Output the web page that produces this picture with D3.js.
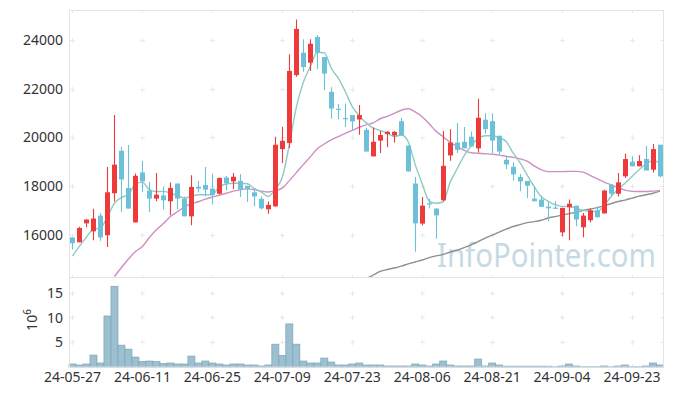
<!DOCTYPE html>
<html>
<head>
<meta charset="utf-8">
<script src="https://cdn.jsdelivr.net/npm/d3@7"></script>
<style>
  body { margin: 0; background: #fff; }
  text { font-family: "Noto Sans", sans-serif; }
</style>
</head>
<body>
<div id="chart"></div>
<script>
// trading days shown on the chart (yy-mm-dd)
var dates = [
  "24-05-27","24-05-28","24-05-29","24-05-30","24-05-31",
  "24-06-03","24-06-04","24-06-05","24-06-07","24-06-10","24-06-11",
  "24-06-12","24-06-13","24-06-14","24-06-17","24-06-18","24-06-19","24-06-20","24-06-21","24-06-24","24-06-25",
  "24-06-26","24-06-27","24-06-28","24-07-01","24-07-02","24-07-03","24-07-04","24-07-05","24-07-08","24-07-09",
  "24-07-10","24-07-11","24-07-12","24-07-15","24-07-16","24-07-17","24-07-18","24-07-19","24-07-22","24-07-23",
  "24-07-24","24-07-25","24-07-26","24-07-29","24-07-30","24-07-31","24-08-01","24-08-02","24-08-05","24-08-06",
  "24-08-07","24-08-08","24-08-09","24-08-12","24-08-13","24-08-14","24-08-16","24-08-19","24-08-20","24-08-21",
  "24-08-22","24-08-23","24-08-26","24-08-27","24-08-28","24-08-29","24-08-30","24-09-02","24-09-03","24-09-04",
  "24-09-05","24-09-06","24-09-09","24-09-10","24-09-11","24-09-12","24-09-13","24-09-19","24-09-20","24-09-23",
  "24-09-24","24-09-25","24-09-26","24-09-27"
];

var open  = [15880,15680,16460,16130,16780,15970,17700,19450,17920,16500,18560,17810,17480,17610,17370,18100,17480,16750,17970,18040,17890,17680,18350,18190,18210,18010,17740,17470,17040,17160,19520,19770,22570,23490,23080,24140,23310,21880,21180,20800,20920,20740,20310,19220,19870,20140,20080,20670,19660,18100,16450,17290,17070,17410,19260,19790,19820,20030,19550,20730,20670,20070,19080,18790,18370,18210,17480,17440,17150,17110,16090,17120,17190,16300,16590,17000,16870,18050,17680,18400,19000,18810,19110,18670,19700];
var high  = [15880,16320,16620,17060,16890,18780,20920,19620,19690,18510,19030,18160,18530,17980,18140,18100,17570,18440,18210,18780,18510,18350,18420,18530,18490,18010,17920,17570,17360,20030,20440,23430,24860,24040,24040,24220,23310,22070,21380,21400,20920,21340,20400,20410,20270,20270,20270,20800,19660,18370,17550,17470,17070,20270,20340,20590,20430,20240,21590,21000,21000,20070,19250,18970,18490,18210,17980,17600,17360,17370,17100,17440,17190,16890,17070,17140,17850,18050,18530,19330,19230,19270,19660,19730,19700];
var low   = [15380,15680,16300,15760,15740,15490,17360,16940,17070,16500,17740,16930,17370,17030,16790,17030,16750,16380,17730,17570,17240,17650,17820,17880,17550,17340,17160,17030,16860,17140,18950,19560,22500,22710,22740,22810,21950,20770,20750,20430,20300,20110,19420,19220,19360,19600,19790,20080,18600,15290,16370,17070,15830,17370,19040,19360,19550,19630,19380,20150,19360,19290,18700,18230,17780,17510,17370,17140,16550,17070,15930,15760,16340,15890,16500,16710,16870,17610,17570,18330,18810,18810,18640,18560,18350];
var close = [15640,16270,16620,16660,15880,17740,18880,18270,17070,18420,18190,17480,17640,17410,17920,17480,16750,17960,17890,17850,17630,18330,18110,18380,17850,17880,17570,17080,17220,19700,19860,22740,24470,22900,23860,23490,22630,21190,21150,20780,20660,20920,19420,19820,20100,20230,20230,20080,18600,16460,17190,17260,16790,18830,19790,19490,19550,19630,20810,20340,19870,19420,18890,18480,18190,18010,17370,17140,17080,17100,17100,17270,16620,16780,17000,16710,17810,17680,18150,19110,18810,19030,18640,19520,18400];

// volume, millions of shares
var volume = [0.6,0.4,0.6,2.4,0.8,10.3,16.3,4.4,3.6,2.0,1.1,1.2,1.1,0.7,0.8,0.6,0.6,2.2,0.8,1.2,0.8,0.6,0.4,0.6,0.6,0.4,0.4,0.2,0.4,4.6,2.3,8.7,4.6,1.2,0.8,0.8,1.8,1.0,0.4,0.4,0.6,0.8,0.4,0.4,0.4,0.2,0.2,0.2,0.2,0.6,0.4,0.2,0.6,1.2,0.4,0.2,0.2,0.2,1.6,0.2,0.8,0.4,0.15,0.15,0.15,0.15,0.15,0.15,0.15,0.05,0.2,0.6,0.2,0.05,0.05,0.05,0.2,0.05,0.2,0.4,0.05,0.05,0.2,0.8,0.4];

// moving averages (null = not visible)
var ma5 = [15110,15520,15900,16220,16270,16740,17290,17530,17640,18090,18150,17850,17770,17780,17710,17600,17510,17570,17640,17640,17640,17980,18080,18110,18110,18090,17890,17750,17570,17870,18360,19700,21240,22270,22920,23510,23490,22850,22440,21890,21270,20890,20600,20380,20290,20180,20030,20110,19820,18880,18090,17380,17290,17350,18160,18710,19250,19660,19960,20070,20070,19990,19830,19360,18950,18460,17980,17570,17370,17230,17160,17160,17080,17000,16960,16940,17190,17570,17850,18120,18390,18670,18900,19040,18950];
var ma20 = [null,null,null,null,null,null,14270,14640,14990,15300,15510,15880,16200,16450,16740,16940,17130,17270,17350,17460,17540,17620,17700,17790,17850,17880,17850,17790,17750,17810,17910,18220,18550,18880,19200,19530,19730,19900,20030,20170,20290,20420,20520,20600,20770,20870,20990,21120,21180,21050,20850,20560,20250,20030,19800,19620,19470,19370,19350,19330,19310,19270,19220,19180,19120,19020,18830,18670,18590,18590,18590,18600,18600,18570,18440,18300,18160,18050,17930,17830,17780,17770,17770,17790,17810];
var ma60 = [null,null,null,null,null,null,null,null,null,null,null,null,null,null,null,null,null,null,null,null,null,null,null,null,null,null,null,null,null,null,null,null,null,null,null,null,null,null,null,null,null,null,14190,14330,14480,14560,14620,14700,14790,14870,14950,15050,15120,15180,15280,15360,15460,15570,15710,15850,15980,16100,16220,16330,16410,16490,16530,16590,16680,16740,16800,16860,16920,16990,17050,17110,17190,17270,17360,17420,17500,17580,17640,17700,17790];

var priceTicks = [16000, 18000, 20000, 22000, 24000];
var volTicks = [5, 10, 15];
var xTickLabels = ["24-05-27","24-06-11","24-06-25","24-07-09","24-07-23","24-08-06","24-08-21","24-09-04","24-09-23"];

var width = 673, height = 396,
    plotL = 69.5, plotR = 663.5,
    plotT = 10, plotM = 277.5, plotB = 367;

var upColor = "#ee3a3a",
    downColor = "#6cc0d8",
    gridColor = "#e9e9e9";

var svg = d3.select("#chart").append("svg")
  .attr("width", width)
  .attr("height", height);

var x = d3.scaleBand()
  .domain(dates)
  .range([69, 663.5])
  .paddingInner(0)
  .paddingOuter(0);

var cx = function(i) { return x(dates[i]) + x.bandwidth() / 2; };

var y = d3.scaleLinear().domain([14230, 25250]).range([plotM, plotT]);
var yv = d3.scaleLinear().domain([0, 18.08]).range([plotB, plotM]);

svg.append("clipPath").attr("id", "clipPrice")
  .append("rect").attr("x", plotL).attr("y", plotT).attr("width", plotR - plotL).attr("height", plotM - plotT);

// small "+" marks at grid intersections
function crosses(ys) {
  var g = svg.append("g").attr("stroke", gridColor).attr("stroke-width", 1);
  xTickLabels.forEach(function(d) {
    var px = Math.round(x(d) + x.bandwidth() / 2) + 0.5;
    ys.forEach(function(py) {
      py = Math.round(py) + 0.5;
      g.append("line").attr("x1", px - 2.5).attr("x2", px + 2.5).attr("y1", py).attr("y2", py);
      g.append("line").attr("x1", px).attr("x2", px).attr("y1", py - 2.5).attr("y2", py + 2.5);
    });
  });
  // ticks on the right border
  ys.forEach(function(py) {
    py = Math.round(py) + 0.5;
    g.append("line").attr("x1", plotR - 3).attr("x2", plotR).attr("y1", py).attr("y2", py);
  });
}
crosses(priceTicks.map(function(d) { return y(d); }));
crosses(volTicks.map(function(d) { return yv(d); }));

// x tick marks on the horizontal borders
[plotT, plotM, plotB].forEach(function(by) {
  xTickLabels.forEach(function(d) {
    var px = Math.round(x(d) + x.bandwidth() / 2) + 0.5;
    svg.append("line").attr("stroke", gridColor)
      .attr("x1", px).attr("x2", px)
      .attr("y1", by === plotT ? by : by - 3).attr("y2", by === plotT ? by + 3 : by);
  });
});

// watermark
svg.append("text")
  .attr("x", 437).attr("y", 267)
  .attr("textLength", 219)
  .attr("lengthAdjust", "spacingAndGlyphs")
  .style("font-size", "32px")
  .style("fill", "#c6dae5")
  .text("InfoPointer.com");

// moving average lines
var plot = svg.append("g").attr("clip-path", "url(#clipPrice)");

function maLine(arr, color) {
  var line = d3.line()
    .defined(function(d) { return d != null; })
    .x(function(d, i) { return cx(i); })
    .y(function(d) { return y(d); })
    .curve(d3.curveMonotoneX);
  plot.append("path")
    .datum(arr)
    .attr("fill", "none")
    .attr("stroke", color)
    .attr("stroke-width", 1.4)
    .attr("d", line);
}
maLine(ma60, "#8f8f8f");
maLine(ma20, "#cc8fc6");
maLine(ma5, "#8ecbc1");

// candles
var idx = d3.range(dates.length);
var candles = plot.selectAll("g.candle").data(idx).enter()
  .append("g")
  .attr("class", "candle");

candles.append("line")
  .attr("x1", function(i) { return Math.round(cx(i)) + 0.5; })
  .attr("x2", function(i) { return Math.round(cx(i)) + 0.5; })
  .attr("y1", function(i) { return y(high[i]); })
  .attr("y2", function(i) { return y(low[i]); })
  .attr("stroke", function(i) { return close[i] > open[i] ? upColor : downColor; })
  .attr("stroke-width", 1.1);

candles.append("rect")
  .attr("x", function(i) { return Math.round(cx(i)) - 2; })
  .attr("width", 5)
  .attr("y", function(i) { return y(Math.max(open[i], close[i])); })
  .attr("height", function(i) { return Math.max(1.2, Math.abs(y(open[i]) - y(close[i]))); })
  .attr("fill", function(i) { return close[i] > open[i] ? upColor : downColor; });

// volume bars
svg.append("g").selectAll("rect").data(idx).enter()
  .append("rect")
  .attr("x", function(i) { return x(dates[i]); })
  .attr("width", x.bandwidth())
  .attr("y", function(i) { return yv(volume[i]); })
  .attr("height", function(i) { return plotB - yv(volume[i]); })
  .attr("fill", "#9cc0d0")
  .attr("stroke", "#7fa8bd")
  .attr("stroke-width", 0.8);

// frame
svg.append("rect")
  .attr("x", plotL).attr("y", plotT + 0.5)
  .attr("width", plotR - plotL).attr("height", plotB - plotT - 0.5)
  .attr("fill", "none").attr("stroke", "#e4e4e4");
svg.append("line")
  .attr("x1", plotL).attr("x2", plotR).attr("y1", plotM).attr("y2", plotM)
  .attr("stroke", "#e4e4e4");

// axis labels
svg.append("g").selectAll("text").data(priceTicks).enter()
  .append("text")
  .attr("x", 63).attr("y", function(d) { return y(d); })
  .attr("dy", "0.36em")
  .attr("text-anchor", "end")
  .style("font-size", "14px").style("fill", "#333")
  .text(function(d) { return d; });

svg.append("g").selectAll("text").data(volTicks).enter()
  .append("text")
  .attr("x", 63).attr("y", function(d) { return yv(d); })
  .attr("dy", "0.36em")
  .attr("text-anchor", "end")
  .style("font-size", "14px").style("fill", "#333")
  .text(function(d) { return d; });

svg.append("g").selectAll("text").data(xTickLabels).enter()
  .append("text")
  .attr("x", function(d) { return x(d) + x.bandwidth() / 2; })
  .attr("y", 382)
  .attr("text-anchor", "middle")
  .style("font-size", "14px").style("fill", "#333")
  .text(function(d) { return d; });

var expo = svg.append("text")
  .attr("transform", "translate(37,320) rotate(-90)")
  .attr("text-anchor", "middle")
  .style("font-size", "14px").style("fill", "#333");
expo.append("tspan").text("10");
expo.append("tspan").attr("dy", -6).style("font-size", "10px").text("6");
</script>
</body>
</html>
